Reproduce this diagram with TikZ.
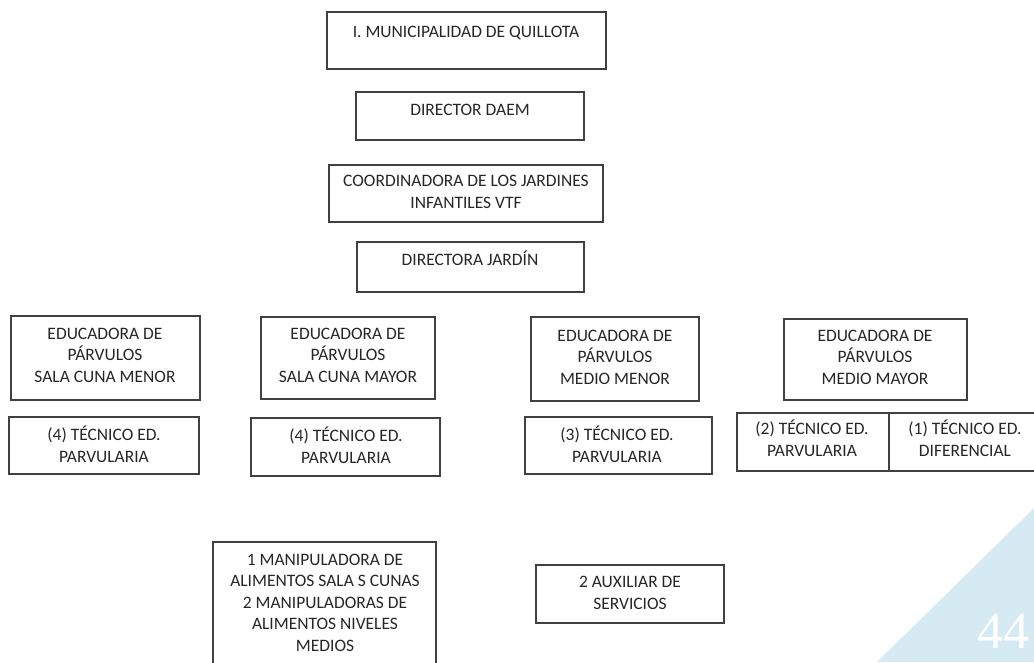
\documentclass[tikz,border=0pt]{standalone}
\usepackage{fontspec}
\setmainfont{Carlito}
\newfontfamily\pagenumfont{Liberation Serif}

\tikzset{every picture/.style={line width=0.75pt}}

\begin{document}
\begin{tikzpicture}[x=0.75pt,y=0.75pt,yscale=-1,xscale=1]
        \useasboundingbox (0,0) rectangle (1034,662);
        \clip (0,0) rectangle (1034,662);

        %Shape: Triangle [id:corner]
        \draw  [draw opacity=0][fill={rgb, 255:red, 213; green, 234; blue, 242 }  ,fill opacity=1 ] (877,662) -- (1034,508) -- (1034,662) -- cycle ;

        \begin{scope}[draw={rgb, 255:red, 64; green, 64; blue, 64 }, line width=1pt]
        %Shape: Rectangle [id:muni]
        \draw   (327,12) -- (606,12) -- (606,69) -- (327,69) -- cycle ;
        %Shape: Rectangle [id:daem]
        \draw   (356,92) -- (584,92) -- (584,140) -- (356,140) -- cycle ;
        %Shape: Rectangle [id:coord]
        \draw   (329,165) -- (603,165) -- (603,222) -- (329,222) -- cycle ;
        %Shape: Rectangle [id:dirj]
        \draw   (357,242) -- (584,242) -- (584,292) -- (357,292) -- cycle ;
        %Shape: Rectangle [id:edscm]
        \draw   (11,316) -- (200,316) -- (200,400) -- (11,400) -- cycle ;
        %Shape: Rectangle [id:edscmay]
        \draw   (261,317) -- (435,317) -- (435,399) -- (261,399) -- cycle ;
        %Shape: Rectangle [id:edmm]
        \draw   (531,317) -- (699,317) -- (699,401) -- (531,401) -- cycle ;
        %Shape: Rectangle [id:edmmay]
        \draw   (784,319) -- (967,319) -- (967,400) -- (784,400) -- cycle ;
        %Shape: Rectangle [id:tecscm]
        \draw   (9,417) -- (199,417) -- (199,474) -- (9,474) -- cycle ;
        %Shape: Rectangle [id:tecscmay]
        \draw   (251,418) -- (440,418) -- (440,476) -- (251,476) -- cycle ;
        %Shape: Rectangle [id:tecmm]
        \draw   (525,417) -- (712,417) -- (712,474) -- (525,474) -- cycle ;
        %Shape: Rectangle [id:tecmmay]
        \draw   (737,413) -- (889,413) -- (889,471) -- (737,471) -- cycle ;
        %Shape: Rectangle [id:tecdif]
        \draw   (889,413) -- (1041,413) -- (1041,471) -- (889,471) -- cycle ;
        %Shape: Rectangle [id:manip]
        \draw   (213,542) -- (436,542) -- (436,668) -- (213,668) -- cycle ;
        %Shape: Rectangle [id:aux]
        \draw   (536,565) -- (724,565) -- (724,623) -- (536,623) -- cycle ;
        \end{scope}

        % texts sit on the baseline of their last line
        \begin{scope}[every node/.style={anchor=base, inner sep=0.75pt, align=center, font=\fontsize{13.1}{16.2}\selectfont, text={rgb, 255:red, 38; green, 38; blue, 38 }}]
        % Text Node
        \draw (466,37.5) node (muni) {I. MUNICIPALIDAD DE QUILLOTA};
        % Text Node
        \draw (470,115.5) node (daem) {DIRECTOR DAEM};
        % Text Node
        \draw (466,208.5) node (coord) {COORDINADORA DE LOS JARDINES\\INFANTILES VTF};
        % Text Node
        \draw (470,265.5) node (dirj) {DIRECTORA JARDÍN};
        % Text Node
        \draw (105,382.5) node (edscm) {EDUCADORA DE\\PÁRVULOS\\SALA CUNA MENOR};
        % Text Node
        \draw (348,382.5) node (edscmay) {EDUCADORA DE\\PÁRVULOS\\SALA CUNA MAYOR};
        % Text Node
        \draw (615,384.5) node (edmm) {EDUCADORA DE\\PÁRVULOS\\MEDIO MENOR};
        % Text Node
        \draw (875,384.5) node (edmmay) {EDUCADORA DE\\PÁRVULOS\\MEDIO MAYOR};
        % Text Node
        \draw (104,462.5) node (tecscm) {(4) TÉCNICO ED.\\PARVULARIA};
        % Text Node
        \draw (346,463) node (tecscmay) {(4) TÉCNICO ED.\\PARVULARIA};
        % Text Node
        \draw (617,462) node (tecmm) {(3) TÉCNICO ED.\\PARVULARIA};
        % Text Node
        \draw (812,456.5) node (tecmmay) {(2) TÉCNICO ED.\\PARVULARIA};
        % Text Node
        \draw (965,456.5) node (tecdif) {(1) TÉCNICO ED.\\DIFERENCIAL};
        % Text Node
        \draw (325,651.5) node (manip) {1 MANIPULADORA DE\\ALIMENTOS SALA S CUNAS\\2 MANIPULADORAS DE\\ALIMENTOS NIVELES\\MEDIOS};
        % Text Node
        \draw (630,609.5) node (aux) {2 AUXILIAR DE\\SERVICIOS};
        \end{scope}

        % Text Node
        \draw (977,648) node [anchor=base west][inner sep=0pt]  [font=\pagenumfont\fontsize{39}{39}\selectfont, text=white]  (pagenum) {44};

\end{tikzpicture}
\end{document}
